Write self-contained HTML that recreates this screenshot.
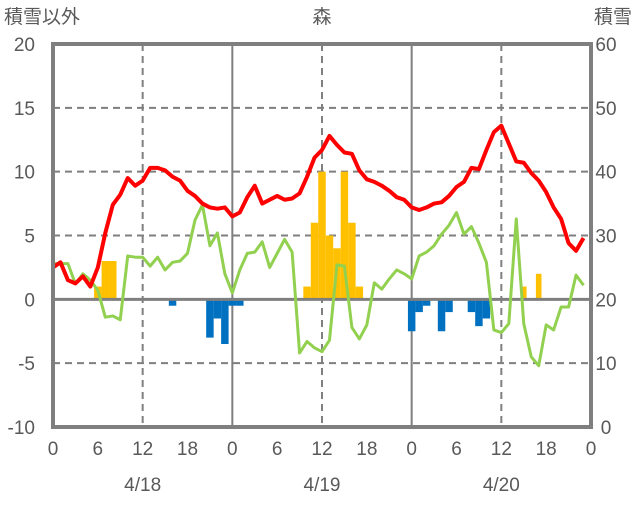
<!DOCTYPE html>
<html><head><meta charset="utf-8"><style>
body{margin:0;background:#fff}
svg text{font-family:"Liberation Sans","Noto Sans CJK JP",sans-serif;fill:#595959}
</style></head><body>
<svg id="c" width="636" height="501" xmlns="http://www.w3.org/2000/svg"></svg>
<script>
const hours=[...Array(72).keys()];
const temp=[2.5,2.9,1.5,1.25,1.8,1.0,2.5,5.2,7.4,8.2,9.5,8.9,9.3,10.3,10.3,10.1,9.6,9.3,8.5,8.1,7.5,7.2,7.1,7.2,6.5,6.8,8.0,8.9,7.5,7.8,8.1,7.8,7.9,8.3,9.6,11.1,11.7,12.8,12.1,11.5,11.4,10.1,9.4,9.2,8.9,8.5,8.0,7.8,7.2,7.0,7.2,7.5,7.6,8.1,8.8,9.2,10.3,10.2,11.7,13.1,13.6,12.2,10.8,10.7,9.9,9.3,8.4,7.2,6.3,4.4,3.8,4.8];
const green=[2.8,2.8,2.8,1.2,2.0,1.5,0.7,-1.4,-1.3,-1.6,3.4,3.3,3.3,2.6,3.3,2.3,2.9,3.0,3.6,6.2,7.4,4.2,5.2,2.0,0.5,2.3,3.6,3.7,4.5,2.5,3.6,4.7,3.7,-4.2,-3.3,-3.8,-4.1,-3.2,2.7,2.6,-2.2,-3.1,-2.0,1.3,0.8,1.6,2.3,2.0,1.6,3.4,3.7,4.2,5.1,5.8,6.8,5.1,5.7,4.4,2.9,-2.4,-2.6,-1.9,6.3,-1.9,-4.5,-5.2,-2.0,-2.4,-0.6,-0.6,1.9,1.1];
const barHours=[6,7,8,16,21,22,23,24,25,34,35,36,37,38,39,40,41,48,49,50,52,53,56,57,58,63,65];
const barValues=[1,3,3,-0.5,-3,-1.5,-3.5,-0.5,-0.5,1,6,10,5,4,10,6,1,-2.5,-1,-0.5,-2.5,-1,-1,-2.1,-1.5,1,2];
const leftTicks=[20,15,10,5,0,-5,-10];
const rightTicks=[60,50,40,30,20,10,0];
const xTicks=["0","6","12","18","0","6","12","18","0","6","12","18","0"];
const dates=["4/18","4/19","4/20"];
const snowDepth=[0,0];

const L=53,R=591,T=44,B=427;
const x=h=>L+h*(R-L)/72;
const y=v=>T+(20-v)*(B-T)/30;
const yr=v=>B-v*(B-T)/60;
const svg=document.getElementById('c');
const NS='http://www.w3.org/2000/svg';
function mk(tag,attrs,name){const e=document.createElementNS(NS,tag);for(const k in attrs)e.setAttribute(k,attrs[k]);


svg.appendChild(e);return e;}
// grid
[15,10,5,-5].forEach(v=>mk('line',{x1:L,x2:R,y1:y(v),y2:y(v),stroke:'#7f7f7f','stroke-width':2,'stroke-dasharray':'7,5'},'h-gridline'));
[12,36,60].forEach(h=>mk('line',{x1:x(h),x2:x(h),y1:T,y2:B,stroke:'#7f7f7f','stroke-width':2,'stroke-dasharray':'7,5'},'v-gridline-noon'));
[24,48].forEach(h=>mk('line',{x1:x(h),x2:x(h),y1:T,y2:B,stroke:'#7f7f7f','stroke-width':2},'v-gridline-day'));
// bars
const bw=(R-L)/72;
barHours.forEach((h,i)=>{const v=barValues[i];const narrow=h>60;const w=narrow?bw*0.75:bw;
mk('rect',{x:x(h)-w/2,y:Math.min(y(v),y(0)),width:w,height:Math.abs(y(v)-y(0)),fill:v>0?'#ffc000':'#0070c0'},'bar-snow-change');});
mk('line',{x1:L,x2:R,y1:y(0),y2:y(0),stroke:'#7f7f7f','stroke-width':3},'zero-line');
// lines
mk('polyline',{points:hours.map((h,i)=>x(h)+','+y(green[i])).join(' '),fill:'none',stroke:'#92d050','stroke-width':3,'stroke-linejoin':'round'},'green-series-line');
mk('polyline',{points:hours.map((h,i)=>x(h)+','+y(temp[i])).join(' '),fill:'none',stroke:'#ff0000','stroke-width':4,'stroke-linejoin':'round'},'temperature-line');
mk('line',{x1:L,x2:R,y1:yr(snowDepth[0]),y2:yr(snowDepth[1]),stroke:'#7030a0','stroke-width':3},'snow-depth-line');
// frame
mk('rect',{x:L,y:T,width:R-L,height:B-T,fill:'none',stroke:'#7f7f7f','stroke-width':4},'plot-frame');
// labels
leftTicks.forEach(v=>{const t=mk('text',{x:35,y:y(v)+7,'text-anchor':'end','font-size':19},'left-tick-label');t.textContent=v;});
rightTicks.forEach(v=>{const t=mk('text',{x:606,y:yr(v)+7,'text-anchor':'middle','font-size':19},'right-tick-label');t.textContent=v;});
xTicks.forEach((s,i)=>{const t=mk('text',{x:x(i*6),y:455,'text-anchor':'middle','font-size':19},'x-tick-label');t.textContent=s;});
dates.forEach((s,i)=>{const t=mk('text',{x:x(12+24*i),y:491,'text-anchor':'middle','font-size':19},'date-label');t.textContent=s;});
let t=mk('text',{x:4,y:23,'font-size':19},'left-axis-title');t.textContent='積雪以外';
t=mk('text',{x:322,y:23,'text-anchor':'middle','font-size':19},'chart-title');t.textContent='森';
t=mk('text',{x:632,y:23,'text-anchor':'end','font-size':19},'right-axis-title');t.textContent='積雪';
</script>
</body></html>
